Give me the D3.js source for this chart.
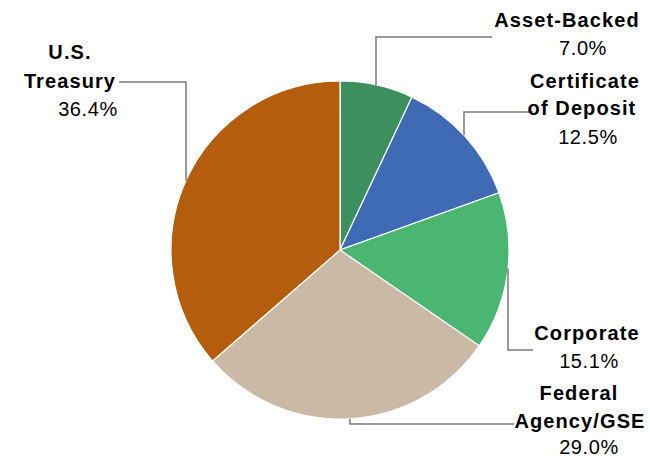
<!DOCTYPE html>
<html>
<head>
<meta charset="utf-8">
<script src="https://cdn.jsdelivr.net/npm/d3@7"></script>
<style>
  html, body { margin: 0; padding: 0; background: #fff; }
  svg { display: block; }
  text { font-family: "Liberation Sans", Arial, sans-serif; fill: #000; }
</style>
</head>
<body>
<svg id="chart" width="650" height="459"></svg>
<script>
// Portfolio composition by sector (percent of holdings)
const categories = ["Asset-Backed", "Certificate of Deposit", "Corporate", "Federal Agency/GSE", "U.S. Treasury"];
const values = [7.0, 12.5, 15.1, 29.0, 36.4];
const labelLines = [["Asset-Backed"], ["Certificate", "of Deposit"], ["Corporate"], ["Federal", "Agency/GSE"], ["U.S.", "Treasury"]];
const colors = ["#3d8f5d", "#3f6bb5", "#4bb572", "#c9b9a5", "#b35d0d"];

const width = 650, height = 459;
const cx = 340, cy = 250, radius = 169;

const svg = d3.select("#chart");
const g = svg.append("g").attr("transform", `translate(${cx},${cy})`);

const pie = d3.pie().sort(null).value(d => d.value);
const arc = d3.arc().innerRadius(0).outerRadius(radius);
const data = categories.map((c, i) => ({ name: c, value: values[i], color: colors[i], lines: labelLines[i] }));
const arcs = pie(data);

g.selectAll("path.slice")
  .data(arcs)
  .join("path")
  .attr("class", "slice")
  .attr("d", arc)
  .attr("fill", d => d.data.color)
  .attr("stroke", "#fff")
  .attr("stroke-width", 1.2);

// Label placement: x of the vertical leader segment, the elbow height,
// the end of the horizontal run, and the text block layout.
const layout = [
  { lx: 376, ly: 37,  ex: 492, lines: [{ x: 567, y: 27 }], pct: { x: 583, y: 55 } },
  { lx: 464, ly: 112, ex: 533, lines: [{ x: 585, y: 88 }, { x: 582, y: 115 }], pct: { x: 588, y: 144 } },
  { lx: 508, ly: 350, ex: 533, lines: [{ x: 587, y: 340 }], pct: { x: 589, y: 368 } },
  { lx: 350, ly: 424, ex: 514, lines: [{ x: 579, y: 400 }, { x: 580, y: 428 }], pct: { x: 589, y: 454 } },
  { lx: 186, ly: 82,  ex: 119, lines: [{ x: 70, y: 59 }, { x: 70, y: 88 }], pct: { x: 88, y: 116 } }
];

const fmt = d3.format(".1f");
const leaders = svg.append("g");
const labels = svg.append("g");

arcs.forEach((a, i) => {
  const L = layout[i];
  // point where the vertical leader meets the pie edge, on the slice's side
  const dx = L.lx - cx;
  const mid = (a.startAngle + a.endAngle) / 2;
  const side = Math.cos(mid) >= 0 ? -1 : 1; // upper half -> negative y
  const edgeY = cy + side * Math.sqrt(radius * radius - dx * dx);
  leaders.append("path")
    .attr("d", `M${L.lx},${edgeY}L${L.lx},${L.ly}L${L.ex},${L.ly}`)
    .attr("fill", "none")
    .attr("stroke", "#7a7a7a")
    .attr("stroke-width", 1.5);

  a.data.lines.forEach((t, j) => {
    labels.append("text")
      .attr("x", L.lines[j].x)
      .attr("y", L.lines[j].y)
      .attr("text-anchor", "middle")
      .attr("font-size", 20)
      .attr("font-weight", "bold")
      .attr("letter-spacing", 1.1)
      .text(t);
  });
  labels.append("text")
    .attr("x", L.pct.x)
    .attr("y", L.pct.y)
    .attr("text-anchor", "middle")
    .attr("font-size", 20)
    .attr("letter-spacing", 0.6)
    .text(fmt(a.data.value) + "%");
});
</script>
</body>
</html>
